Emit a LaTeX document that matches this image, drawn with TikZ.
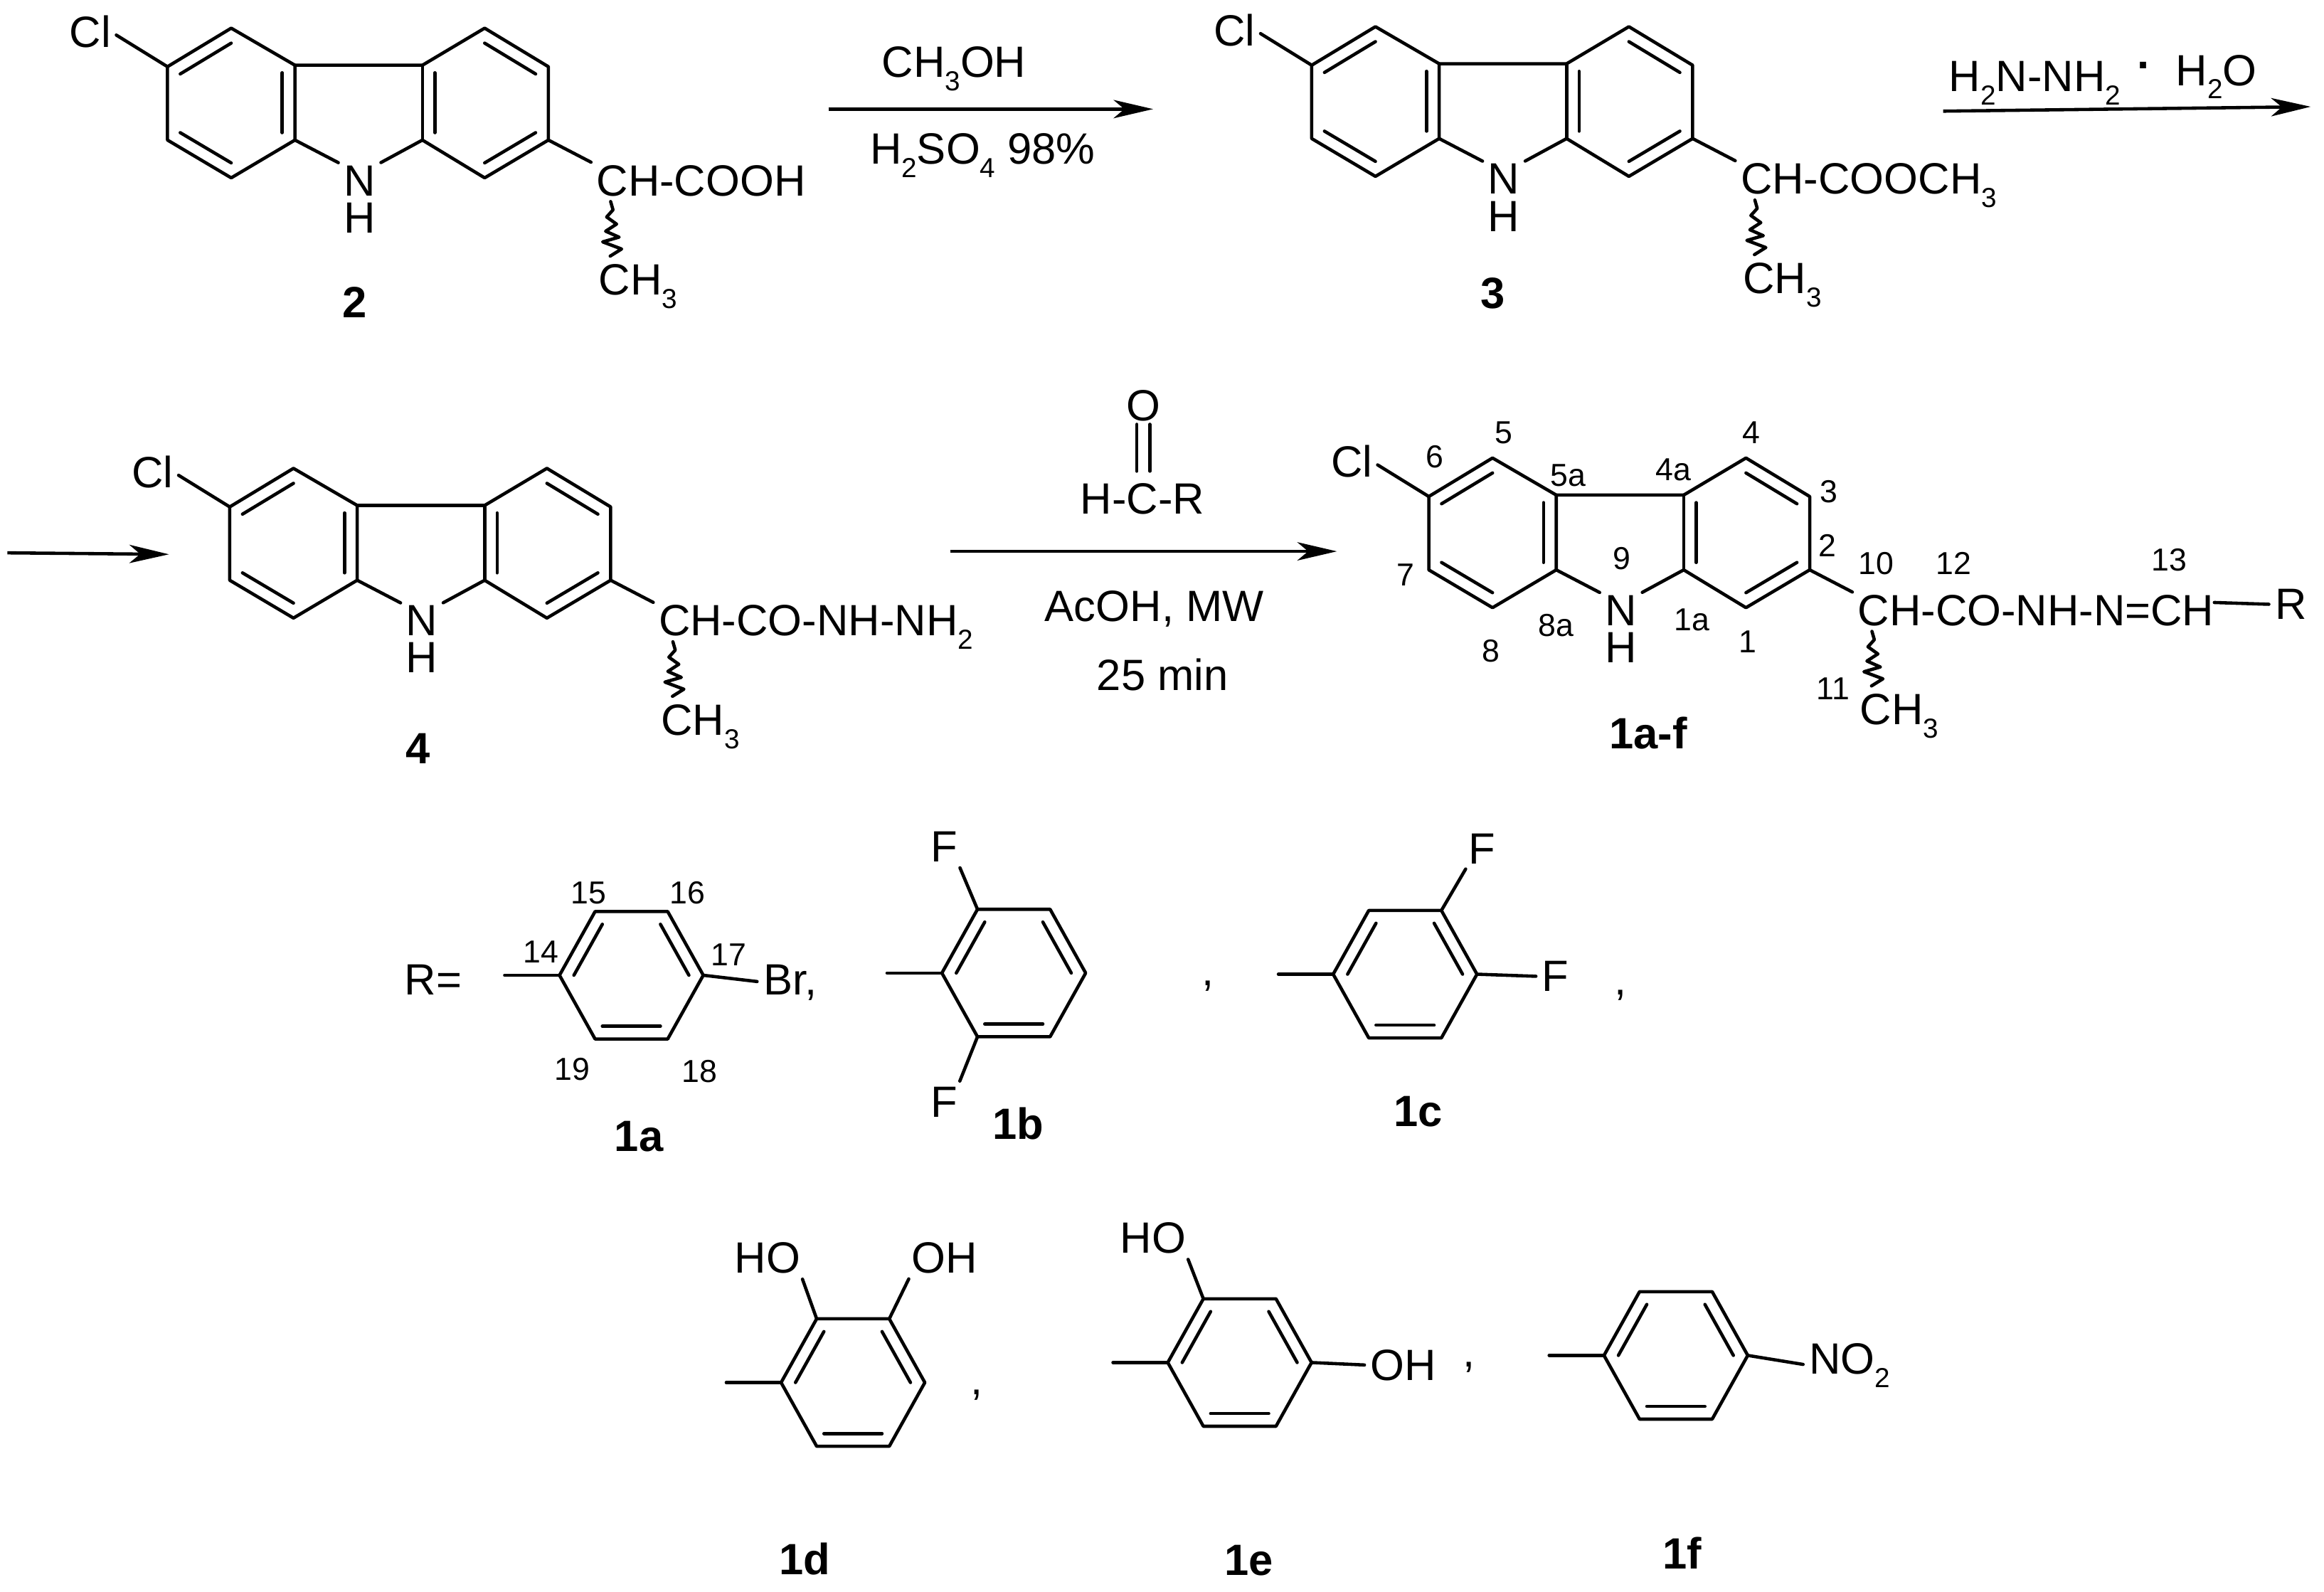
\documentclass[tikz,border=0pt]{standalone}
\usepackage{fontspec}
\setmainfont{Liberation Sans}
\usepackage{tikz}
\usetikzlibrary{arrows.meta,calc}

\newcommand{\sbs}[1]{\raisebox{-5.4pt}{\fontsize{11}{11}\selectfont #1}}
\newcommand{\innerbond}[3]{\draw[bond] ($(#3)!.8!(#1)$) -- ($(#3)!.8!(#2)$);}

\tikzset{
    bond/.style={line width=1.3pt,line cap=round,line join=round},
    tolabel/.style={bond,shorten >=2.5pt},
    atom/.style={inner sep=0pt,outer sep=0pt,anchor=base west,font=\fontsize{17.5}{20}\selectfont},
    num/.style={inner sep=0pt,outer sep=0pt,font=\fontsize{12.7}{14}\selectfont},
    cmpd/.style={inner sep=0pt,outer sep=0pt,font=\fontsize{17.5}{20}\selectfont\bfseries},
    reaction/.style={line width=1.3pt,-{Stealth[length=15.8pt,width=7.3pt,inset=4.3pt]}},
    carbazole/.pic={
        % Ring atoms
        \coordinate (-c6) at (113,45);
        \coordinate (-c5) at (156,19);
        \coordinate (-c5a) at (199,44);
        \coordinate (-c4a) at (285,44);
        \coordinate (-c4) at (327,19);
        \coordinate (-c3) at (370,45);
        \coordinate (-c2) at (370,94.5);
        \coordinate (-c1) at (327,120);
        \coordinate (-c1a) at (285,94.5);
        \coordinate (-c8a) at (199,94.5);
        \coordinate (-c8) at (156,120);
        \coordinate (-c7) at (113,94.5);
        \coordinate (-left) at (156,69.5);
        \coordinate (-right) at (327,69.5);
        % Labels
        \node[atom] (-cl) at (47,32) {Cl};
        \node[atom] (-n) at (232,132) {N};
        \node[atom] (-h) at (232,157) {H};
        \node[atom] (-chain) at (402.5,132) {#1};
        \node[atom] (-me) at (404,199) {CH\sbs{3}};
        % Bonds
        \draw[bond] (-c6) -- (-c5) -- (-c5a) -- (-c4a) -- (-c4) -- (-c3) -- (-c2) -- (-c1) -- (-c1a);
        \draw[bond] (-c4a) -- (-c1a);
        \draw[bond] (-c5a) -- (-c8a) -- (-c8) -- (-c7) -- (-c6);
        \innerbond{-c6}{-c5}{-left}
        \innerbond{-c5a}{-c8a}{-left}
        \innerbond{-c7}{-c8}{-left}
        \innerbond{-c4}{-c3}{-right}
        \innerbond{-c4a}{-c1a}{-right}
        \innerbond{-c2}{-c1}{-right}
        \draw[tolabel] (-c6) -- (-cl.east);
        \draw[tolabel] (-c8a) -- (-n.north west);
        \draw[tolabel] (-c1a) -- (-n.north east);
        \draw[tolabel] (-c2) -- (-chain.north west);
        % Wavy bond
        \coordinate (-wave) at (412,136);
        \draw[bond] (-wave) -- ++(1.6,5.6) -- ++(-4.3,4.8) -- ++(6.7,4.8) -- ++(-7.4,4.8) -- ++(9.1,4) -- ++(-11.1,3.2) -- ++(12.8,4.8) -- ++(-7.7,4.8);
    },
    phenyl/.pic={
        \coordinate (-o) at (0,0);
        \coordinate (-a) at (-48.5,0);
        \coordinate (-b) at (-24.5,-43);
        \coordinate (-c) at (24.5,-43);
        \coordinate (-d) at (48.5,0);
        \coordinate (-e) at (24.5,43);
        \coordinate (-f) at (-24.5,43);
        \coordinate (-stub) at (-85.5,0);
        \draw[bond] (-a) -- (-b) -- (-c) -- (-d) -- (-e) -- (-f) -- cycle;
        \draw[bond] (-stub) -- (-a);
        \innerbond{-a}{-b}{-o}
        \innerbond{-c}{-d}{-o}
        \innerbond{-e}{-f}{-o}
    },
}

\begin{document}
\begin{tikzpicture}[x=0.020835cm,y=-0.020835cm]
    \useasboundingbox (0,0) rectangle (1568,1073.7);

    % Compounds 2, 3 and 4
    \pic (two) at (0,0) {carbazole={CH-COOH}};
    \node[cmpd] (lab2) at (239.5,204) {2};
    \pic (three) at (772,-1) {carbazole={CH-COOCH\sbs{3}}};
    \node[cmpd] (lab3) at (1007,198) {3};
    \pic (four) at (42,297) {carbazole={CH-CO-NH-NH\sbs{2}}};
    \node[cmpd] (lab4) at (282,505) {4};

    % Step 1
    \coordinate (s1a) at (559,73.6);
    \coordinate (s1b) at (778,73.6);
    \draw[reaction] (s1a) -- (s1b);
    \node[atom] (s1top) at (595,52) {CH\sbs{3}OH};
    \node[atom] (s1bot) at (587,110.5) {H\sbs{2}SO\sbs{4} 98\%};

    % Step 2
    \coordinate (s2a) at (1311,75);
    \coordinate (s2b) at (1559,72);
    \draw[reaction] (s2a) -- (s2b);
    \node[atom] (s2left) at (1315,61.6) {H\sbs{2}N-NH\sbs{2}};
    \node[inner sep=0pt,font=\fontsize{17.5}{20}\selectfont\bfseries] (s2dot) at (1446,44) {.};
    \node[atom] (s2right) at (1468,57.6) {H\sbs{2}O};

    % Step 3
    \coordinate (s3a) at (5,373);
    \coordinate (s3b) at (114,374);
    \draw[reaction] (s3a) -- (s3b);

    % Step 4
    \coordinate (s4a) at (641,372);
    \coordinate (s4b) at (902,372);
    \draw[reaction] (s4a) -- (s4b);
    \node[atom] (oxy) at (760,284) {O};
    \node[atom] (ald) at (729,347) {H-C-R};
    \draw[bond] ($(oxy.south)+(-4.5,2)$) -- ++(0,31.6);
    \draw[bond] ($(oxy.south)+(4.3,2)$) -- ++(0,31.6);
    \node[atom] (s4mid) at (705,419) {AcOH, MW};
    \node[atom] (s4time) at (740,465.6) {25 min};

    % Product 1a-f
    \pic (prod) at (851,290) {carbazole={CH-CO-NH-N=CH}};
    \node[atom] (rgrp) at (1535,418) {R};
    \coordinate (rbond) at (1494,406.5);
    \draw[tolabel] (rbond) -- (rgrp.west);
    \node[cmpd] (lab1) at (1112,494.5) {1a-f};
    \node[num] (n5) at (1014.4,292) {5};
    \node[num] (n6) at (968,308) {6};
    \node[num] (n5a) at (1058,321) {5a};
    \node[num] (n4a) at (1129,317) {4a};
    \node[num] (n4) at (1181.4,292) {4};
    \node[num] (n3) at (1234,331.5) {3};
    \node[num] (n2) at (1233,368) {2};
    \node[num] (n10) at (1266,380) {10};
    \node[num] (n12) at (1318,380) {12};
    \node[num] (n13) at (1463.4,378) {13};
    \node[num] (n9) at (1094,377) {9};
    \node[num] (n7) at (948.4,388) {7};
    \node[num] (n8a) at (1050,422) {8a};
    \node[num] (n1a) at (1141.5,418) {1a};
    \node[num] (n1) at (1179,433) {1};
    \node[num] (n8) at (1006,439) {8};
    \node[num] (n11) at (1236.7,464.7) {11};

    % R groups, first row
    \node[atom] (req) at (273,671) {R=};
    \pic (pa) at (426,658) {phenyl};
    \node[atom] (br) at (515,671) {Br,};
    \draw[tolabel] (pa-d) -- (br.west);
    \node[num] (n15) at (397,602.4) {15};
    \node[num] (n16) at (464,602.4) {16};
    \node[num] (n14) at (365,642) {14};
    \node[num] (n17) at (491.7,644) {17};
    \node[num] (n19) at (386,721.6) {19};
    \node[num] (n18) at (472,723) {18};
    \node[cmpd] (laba) at (431,767) {1a};

    \pic (pb) at (684,656.5) {phenyl};
    \node[atom] (fb1) at (628,581.6) {F};
    \node[atom] (fb2) at (628,753.6) {F};
    \draw[tolabel] (pb-b) -- (fb1.south east);
    \draw[tolabel] (pb-f) -- (fb2.north east);
    \node[atom] (ca) at (811,665) {,};
    \node[cmpd] (labb) at (687,758) {1b};

    \pic (pc) at (948,657.3) {phenyl};
    \node[atom] (fc1) at (991,582.7) {F};
    \node[atom] (fc2) at (1040.5,669) {F};
    \draw[tolabel] (pc-c) -- (fc1.south west);
    \draw[tolabel] (pc-d) -- (fc2.west);
    \node[atom] (cb) at (1089,671) {,};
    \node[cmpd] (labc) at (957,750) {1c};

    % R groups, second row
    \pic (pd) at (575.5,932.8) {phenyl};
    \node[atom] (hod) at (495.7,858.8) {HO};
    \node[atom] (ohd) at (615,858.8) {OH};
    \draw[tolabel] (pd-b) -- (hod.south east);
    \draw[tolabel] (pd-c) -- (ohd.south west);
    \node[atom] (cc) at (655,941) {,};
    \node[cmpd] (labd) at (543,1052) {1d};

    \pic (pe) at (836.4,919.3) {phenyl};
    \node[atom] (hoe) at (755.8,845.5) {HO};
    \node[atom] (ohe) at (924.8,931.3) {OH};
    \draw[tolabel] (pe-b) -- (hoe.south east);
    \draw[tolabel] (pe-d) -- (ohe.west);
    \node[atom] (cd) at (987,922) {,};
    \node[cmpd] (labe) at (842.5,1052.6) {1e};

    \pic (pf) at (1130.7,914.5) {phenyl};
    \node[atom] (no) at (1220.7,927) {NO\sbs{2}};
    \draw[tolabel] (pf-d) -- (no.west);
    \node[cmpd] (labf) at (1135,1048) {1f};
\end{tikzpicture}
\end{document}
